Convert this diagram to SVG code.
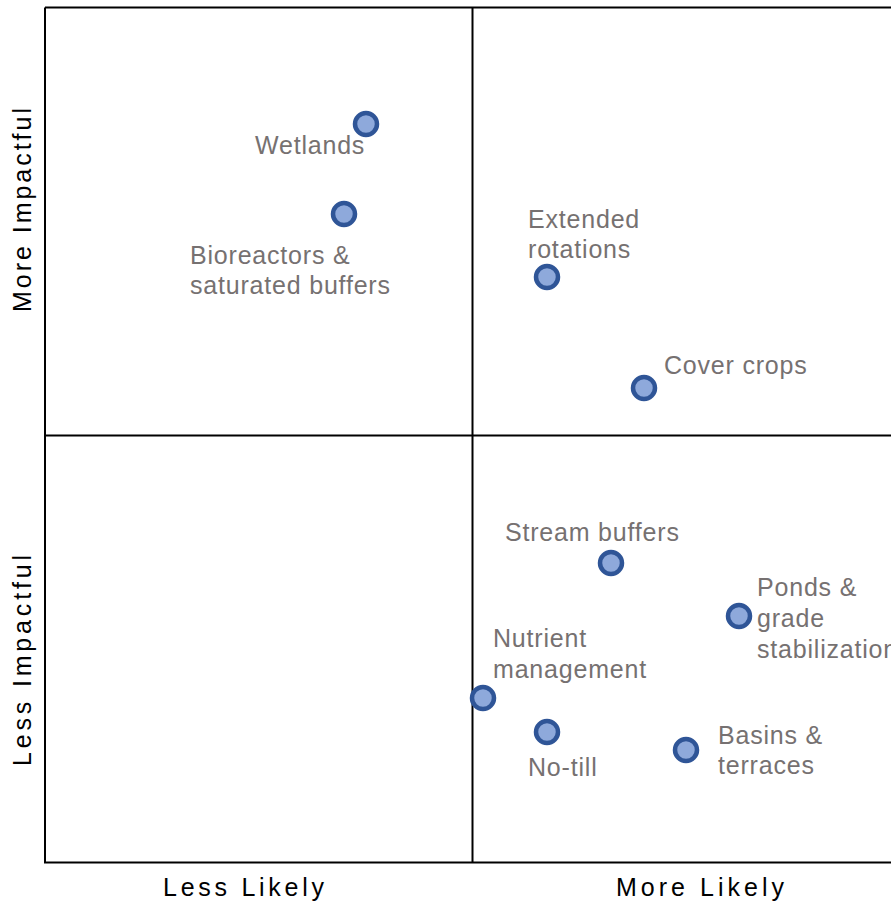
<svg xmlns="http://www.w3.org/2000/svg" width="891" height="903" viewBox="0 0 891 903">
<style>
.grid{stroke:#000;stroke-width:2;fill:none}
.dot{fill:#8EA9DB;stroke:#2F5597;stroke-width:4.5}
.lbl{font-family:"Liberation Sans",Arial,sans-serif;font-size:25px;fill:#767171;letter-spacing:0.8px}
.ax{font-family:"Liberation Sans",Arial,sans-serif;font-size:25px;fill:#000}
</style>
<rect width="891" height="903" fill="#fff"/>
<g id="connectors">
<path class="grid" d="M45,7.5 H891 M45,7.5 V862.5 H891 M472.5,7.5 V862.5 M45,435.5 H891"/>
</g>
<g id="axes">
<text class="ax" x="163" y="896" textLength="161" lengthAdjust="spacing">Less Likely</text>
<text class="ax" x="616" y="896" textLength="168" lengthAdjust="spacing">More Likely</text>
<text class="ax" transform="translate(31,312) rotate(-90)" textLength="204" lengthAdjust="spacing">More Impactful</text>
<text class="ax" transform="translate(31,766) rotate(-90)" textLength="211" lengthAdjust="spacing">Less Impactful</text>
</g>
<g id="wetlands"><circle class="dot" cx="366" cy="124" r="11"/><text class="lbl" x="255" y="154">Wetlands</text></g>
<g id="bioreactors"><circle class="dot" cx="344" cy="214" r="11"/><text class="lbl" x="190" y="264">Bioreactors &amp;</text><text class="lbl" x="190" y="294">saturated buffers</text></g>
<g id="extended-rotations"><circle class="dot" cx="547" cy="277" r="11"/><text class="lbl" x="528" y="228">Extended</text><text class="lbl" x="528" y="258">rotations</text></g>
<g id="cover-crops"><circle class="dot" cx="644" cy="388" r="11"/><text class="lbl" x="664" y="374">Cover crops</text></g>
<g id="stream-buffers"><circle class="dot" cx="611" cy="563" r="11"/><text class="lbl" x="505" y="541">Stream buffers</text></g>
<g id="ponds"><circle class="dot" cx="739" cy="616" r="11"/><text class="lbl" x="757" y="596">Ponds &amp;</text><text class="lbl" x="757" y="627">grade</text><text class="lbl" x="757" y="658">stabilization</text></g>
<g id="nutrient-management"><circle class="dot" cx="483" cy="698" r="11"/><text class="lbl" x="493" y="647">Nutrient</text><text class="lbl" x="493" y="678">management</text></g>
<g id="no-till"><circle class="dot" cx="547" cy="732" r="11"/><text class="lbl" x="528" y="776">No-till</text></g>
<g id="basins"><circle class="dot" cx="686" cy="750" r="11"/><text class="lbl" x="718" y="744">Basins &amp;</text><text class="lbl" x="718" y="774">terraces</text></g>
</svg>
